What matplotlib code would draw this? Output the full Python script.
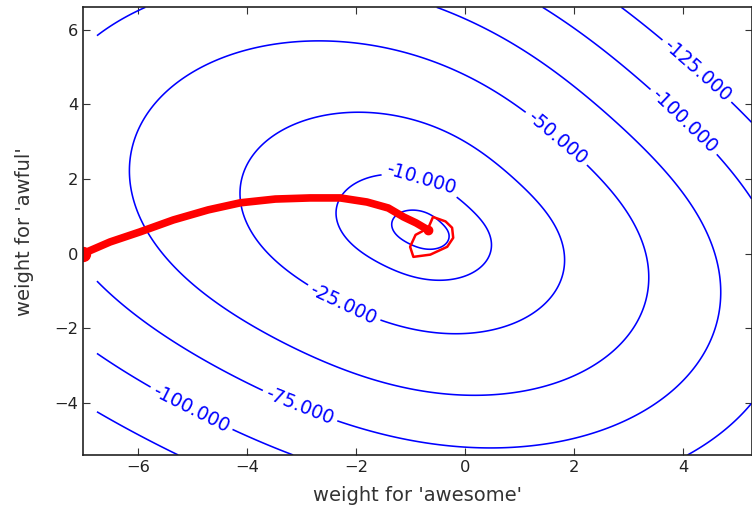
import numpy as np
import matplotlib
matplotlib.use('Agg')
import matplotlib.pyplot as plt

# contour levels of the log-likelihood (innermost one is not labelled)
levels = [-125, -100, -75, -50, -25, -10, -5.7]
label_levels = [-10, -25, -50, -75, -100, -125, -100]
label_x = [-0.82, -2.21, 1.75, -3.02, -5.0, 4.37, 4.05]
label_y = [1.94, -1.29, 3.22, -4.05, -4.1, 5.1, 3.6]

# surface: maximum and level-set shape
w_opt = (-0.75, 0.6)
f_max = -5.0
shape_coef = (1.48, -0.131, 0.038, -0.18)   # log radius: const, cos, sin, sin2
huber_amp = 80.7
huber_scale = 0.85

# gradient ascent path
path_x = [-7.0, -6.51, -5.96, -5.35, -4.71, -4.12, -3.48, -2.84, -2.29, -1.80, -1.41, -1.13, -0.90, -0.69]
path_y = [0.0, 0.31, 0.58, 0.90, 1.17, 1.36, 1.46, 1.49, 1.49, 1.38, 1.22, 0.98, 0.82, 0.64]
# last iterations circling the optimum
loop_x = [-0.69, -0.59, -0.36, -0.24, -0.22, -0.33, -0.64, -0.95, -1.01, -0.91, -0.73]
loop_y = [0.64, 0.98, 0.86, 0.69, 0.42, 0.18, -0.03, -0.09, 0.18, 0.50, 0.64]

gx = np.linspace(w_opt[0] - 6, w_opt[0] + 6, 401)
gy = np.linspace(w_opt[1] - 6, w_opt[1] + 6, 401)
X, Y = np.meshgrid(gx, gy)
dx, dy = X - w_opt[0], Y - w_opt[1]
th = np.arctan2(dy, dx)
a0, a1, b1, b2 = shape_coef
rho = np.exp(a0 + a1 * np.cos(th) + b1 * np.sin(th) + b2 * np.sin(2 * th))
t = np.hypot(dx, dy) / rho
Z = f_max - huber_amp * (np.sqrt(1 + (t / huber_scale) ** 2) - 1)

fig = plt.figure(figsize=(7.52, 5.13), dpi=100)
ax = fig.add_axes([0.1108, 0.1131, 0.8887, 0.8727])

cs = ax.contour(X, Y, Z, levels=levels, colors='b', linewidths=1.15, linestyles='solid')
ax.clabel(cs, fmt='%1.3f', fontsize=13.5, inline=True, inline_spacing=5,
          manual=list(zip(label_x, label_y)))

ax.plot(path_x, path_y, color='r', lw=5.5, solid_capstyle='round', solid_joinstyle='round')
ax.plot(loop_x, loop_y, color='r', lw=1.8, solid_joinstyle='round')
ax.plot(path_x[0], path_y[0], 'o', color='r', ms=10, mec='r')
ax.plot(path_x[-1], path_y[-1], 'o', color='r', ms=6, mec='r')

ax.set_xlim(-7, 5.25)
ax.set_ylim(-5.4, 6.6)
ax.set_xticks([-6, -4, -2, 0, 2, 4])
ax.set_yticks([-4, -2, 0, 2, 4, 6])
ax.tick_params(direction='in', top=True, right=True, length=5, width=0.8,
               labelsize=11.7, colors='#333333', labelcolor='#222222')
for s in ax.spines.values():
    s.set_color('#222222')
    s.set_linewidth(1.2)

ax.set_xlabel("weight for 'awesome'", fontsize=14, color='#333333', labelpad=8)
ax.set_ylabel("weight for 'awful'", fontsize=14, color='#333333', labelpad=15)

fig.savefig('out.png', dpi=100)
